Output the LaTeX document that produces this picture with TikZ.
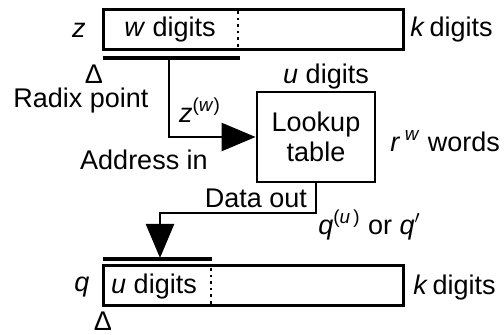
\documentclass[tikz,border=0pt]{standalone}
\usepackage{fontspec}
\setmainfont{Liberation Sans}
\usetikzlibrary{arrows.meta}
\begin{document}
\begin{tikzpicture}[x=0.5pt,y=-0.5pt,
  every node/.style={font=\fontsize{13.5}{16}\selectfont, inner sep=0pt},
  reg/.style={draw, line width=1.5pt, minimum width=150pt, minimum height=20pt},
  lutbox/.style={draw, line width=1.4pt, minimum width=59pt, minimum height=45pt, align=center},
  bar/.style={line width=1.6pt},
  divider/.style={line width=1.3pt, dotted},
  conn/.style={line width=1.2pt, -{Triangle[length=17pt,width=14pt]}},
  lbl/.style={}
]
\useasboundingbox (0,0) rectangle (504,335);
% registers
\node[reg] (zreg) at (253,30) {};
\node[reg] (qreg) at (253,286) {};
\draw[divider] (238,11) -- (238,49);
\draw[divider] (211,268) -- (211,304);
% bars
\coordinate (zbarL) at (103,58);
\coordinate (zbarR) at (240,58);
\coordinate (zbarM) at (169,58);
\coordinate (qbarL) at (103,259);
\coordinate (qbarR) at (212,259);
\coordinate (qbarM) at (160,258);
\draw[bar] (zbarL) -- (zbarR);
\draw[bar] (qbarL) -- (qbarR);
% lookup table
\node[lutbox] (lut) at (316,137) {Lookup\\[-1pt]table};
% connectors
\coordinate (dcorner) at (160,213);
\draw[conn] (zbarM) |- (lut.west);
\draw[conn] (lut.south) |- (dcorner) -- (qbarM);
% labels
\node[lbl] (zl) at (79,30) {\textit{z}};
\node[lbl] (wd) at (170,30) {\textit{w} digits};
\node[lbl, anchor=west] (kd1) at (410,30) {\textit{k}\,digits};
\node[lbl] (d1) at (94,74) {Δ};
\node[lbl] (rp) at (81,101) {Radix point};
\node[lbl] (zw) at (200,110) {\textit{z}\textsuperscript{(\textit{w})}};
\node[lbl] (ud1) at (326,77) {\textit{u} digits};
\node[lbl, anchor=west] (rw) at (390,141) {\textit{r}\,\textsuperscript{\textit{w}} words};
\node[lbl] (ai) at (144,160) {Address in};
\node[lbl] (do) at (256,198) {Data out};
\node[lbl, anchor=west] (qo) at (318,225) {\textit{q}\textsuperscript{(\textit{u}\,)} or \textit{q}$'$};
\node[lbl] (ql) at (82,287) {\textit{q}};
\node[lbl] (ud2) at (154,287) {\textit{u} digits};
\node[lbl, anchor=west] (kd2) at (413,288) {\textit{k}\,digits};
\node[lbl] (d2) at (103,321) {Δ};
\end{tikzpicture}
\end{document}
